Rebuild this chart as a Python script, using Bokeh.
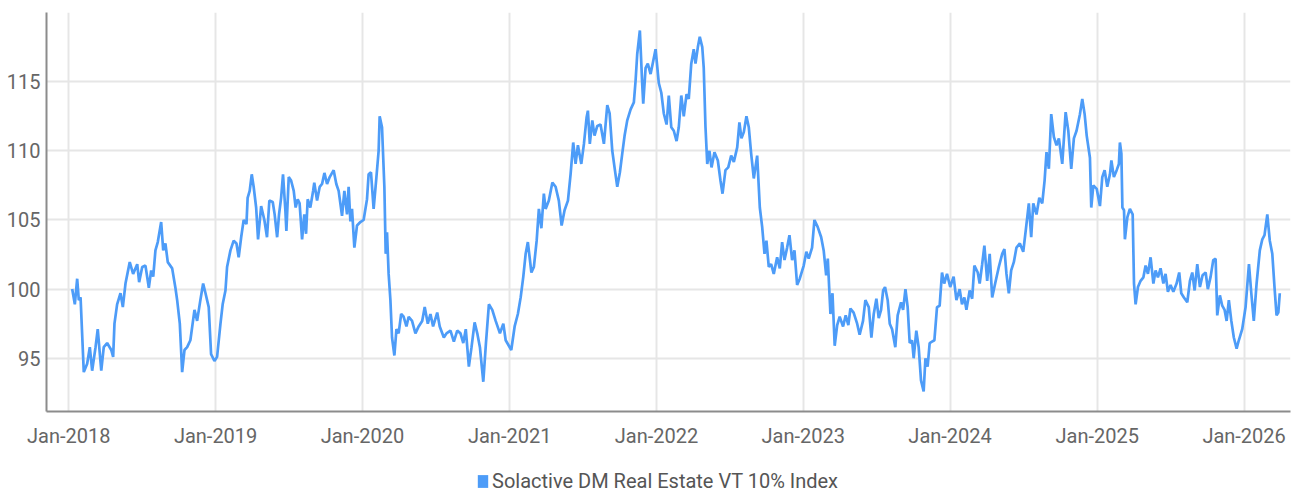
import pandas as pd
from bokeh.plotting import figure
from bokeh.layouts import column
from bokeh.models import (Range1d, FixedTicker, DatetimeTickFormatter, Legend,
                          LegendItem, ColumnDataSource)
from bokeh.embed import file_html
from bokeh.resources import INLINE

series_name = "Solactive DM Real Estate VT 10% Index"

# time as fractional year (index level)
t_2018 = [2018.023, 2018.041, 2018.057, 2018.068, 2018.080, 2018.102, 2018.125, 2018.143, 2018.159, 2018.182,
          2018.197, 2018.221, 2018.238, 2018.261, 2018.289, 2018.302, 2018.311, 2018.329, 2018.352, 2018.368,
          2018.386, 2018.415, 2018.438, 2018.466, 2018.479, 2018.500, 2018.522, 2018.545, 2018.561, 2018.575,
          2018.590, 2018.606, 2018.629, 2018.643, 2018.658, 2018.674, 2018.704, 2018.726, 2018.738, 2018.756,
          2018.772, 2018.788, 2018.806, 2018.828, 2018.856, 2018.874, 2018.896, 2018.915, 2018.931, 2018.953,
          2018.969, 2018.992]
v_2018 = [100.0, 98.9, 100.75, 99.2, 99.4, 94.0, 94.6, 95.8, 94.1, 95.8,
          97.1, 94.1, 95.8, 96.1, 95.6, 95.1, 97.5, 98.9, 99.7, 98.7,
          100.4, 101.95, 101.1, 101.8, 100.5, 101.6, 101.7, 100.1, 101.35, 100.9,
          102.8, 103.4, 104.85, 102.8, 103.3, 101.95, 101.5, 100.1, 99.2, 97.5,
          94.0, 95.6, 95.8, 96.3, 98.5, 97.7, 99.2, 100.4, 99.7, 98.7,
          95.3, 94.8]

t_2019 = [2019.010, 2019.033, 2019.048, 2019.067, 2019.078, 2019.101, 2019.123, 2019.142, 2019.157, 2019.174,
          2019.191, 2019.210, 2019.218, 2019.232, 2019.246, 2019.259, 2019.276, 2019.289, 2019.310, 2019.332,
          2019.350, 2019.366, 2019.389, 2019.402, 2019.419, 2019.432, 2019.446, 2019.459, 2019.475, 2019.482,
          2019.498, 2019.514, 2019.532, 2019.545, 2019.559, 2019.572, 2019.589, 2019.604, 2019.616, 2019.627,
          2019.645, 2019.664, 2019.672, 2019.691, 2019.709, 2019.725, 2019.741, 2019.759, 2019.777, 2019.804,
          2019.822, 2019.838, 2019.861, 2019.877, 2019.895, 2019.906, 2019.918, 2019.929, 2019.945, 2019.963,
          2019.986]
v_2019 = [95.1, 97.5, 98.9, 99.9, 101.6, 102.8, 103.5, 103.3, 102.3, 103.75,
          105.0, 104.7, 106.6, 107.1, 108.3, 107.4, 105.9, 103.6, 106.0, 105.0,
          103.75, 106.4, 106.3, 105.4, 103.75, 105.4, 106.6, 108.3, 105.7, 104.2,
          108.1, 107.85, 107.1, 105.9, 106.5, 106.2, 103.6, 105.4, 104.0, 106.5,
          105.9, 107.1, 107.7, 106.4, 107.4, 107.6, 108.4, 107.6, 108.1, 108.6,
          107.6, 107.1, 105.3, 107.1, 105.4, 107.4, 104.9, 105.8, 103.0, 104.6,
          104.85]

t_2020 = [2020.008, 2020.031, 2020.042, 2020.058, 2020.076, 2020.095, 2020.110, 2020.117, 2020.133, 2020.149,
          2020.158, 2020.167, 2020.178, 2020.190, 2020.201, 2020.217, 2020.231, 2020.246, 2020.263, 2020.280,
          2020.299, 2020.314, 2020.337, 2020.360, 2020.382, 2020.406, 2020.423, 2020.444, 2020.462, 2020.480,
          2020.508, 2020.525, 2020.553, 2020.571, 2020.598, 2020.621, 2020.644, 2020.666, 2020.685, 2020.702,
          2020.723, 2020.741, 2020.762, 2020.780, 2020.798, 2020.821, 2020.839, 2020.859, 2020.882, 2020.905,
          2020.934, 2020.957, 2020.973]
v_2020 = [105.0, 106.5, 108.3, 108.45, 105.8, 108.1, 110.0, 112.5, 111.7, 107.4,
          102.55, 104.1, 101.1, 99.2, 96.5, 95.2, 97.1, 96.8, 98.2, 98.0,
          97.3, 98.0, 97.7, 96.8, 97.3, 97.7, 98.7, 97.5, 98.2, 97.3,
          98.3, 97.3, 96.5, 96.8, 97.0, 96.2, 97.0, 96.8, 96.1, 97.1,
          94.4, 95.8, 97.6, 96.8, 95.8, 93.3, 96.1, 98.9, 98.5, 97.7,
          96.8, 97.5, 96.3]

t_2021 = [2021.011, 2021.034, 2021.056, 2021.075, 2021.093, 2021.109, 2021.124, 2021.148, 2021.165, 2021.184,
          2021.199, 2021.216, 2021.233, 2021.245, 2021.267, 2021.291, 2021.313, 2021.335, 2021.354, 2021.374,
          2021.397, 2021.415, 2021.433, 2021.449, 2021.465, 2021.488, 2021.506, 2021.524, 2021.533, 2021.546,
          2021.563, 2021.578, 2021.597, 2021.619, 2021.642, 2021.665, 2021.681, 2021.699, 2021.717, 2021.733,
          2021.751, 2021.767, 2021.783, 2021.801, 2021.824, 2021.846, 2021.858, 2021.869, 2021.887, 2021.903,
          2021.910, 2021.926, 2021.941, 2021.960, 2021.978, 2021.994]
v_2021 = [95.6, 97.3, 98.2, 99.4, 100.9, 102.55, 103.4, 101.2, 101.6, 103.5,
          105.8, 104.4, 106.9, 105.8, 106.4, 107.7, 107.4, 106.4, 104.6, 105.7,
          106.4, 108.3, 110.6, 109.05, 110.4, 109.05, 110.5, 112.4, 112.9, 110.5,
          112.2, 111.1, 111.8, 111.9, 110.5, 113.3, 112.7, 110.0, 108.6, 107.4,
          108.45, 109.8, 111.1, 112.2, 113.0, 113.5, 115.1, 117.0, 118.7, 114.8,
          113.4, 116.0, 116.3, 115.55, 116.5, 117.35]

t_2022 = [2022.016, 2022.033, 2022.050, 2022.069, 2022.084, 2022.101, 2022.118, 2022.137, 2022.152, 2022.169,
          2022.186, 2022.205, 2022.220, 2022.237, 2022.254, 2022.266, 2022.282, 2022.295, 2022.312, 2022.322,
          2022.334, 2022.346, 2022.361, 2022.375, 2022.395, 2022.418, 2022.436, 2022.450, 2022.470, 2022.489,
          2022.509, 2022.527, 2022.550, 2022.565, 2022.579, 2022.595, 2022.613, 2022.629, 2022.645, 2022.663,
          2022.686, 2022.704, 2022.720, 2022.736, 2022.749, 2022.765, 2022.781, 2022.799, 2022.822, 2022.840,
          2022.856, 2022.872, 2022.890, 2022.906, 2022.924, 2022.940, 2022.958, 2022.976]
v_2022 = [114.9, 114.2, 112.7, 111.9, 114.0, 111.7, 111.45, 110.7, 111.7, 114.0,
          112.5, 114.1, 113.75, 116.3, 117.35, 116.3, 117.5, 118.25, 117.5, 116.0,
          111.7, 109.05, 110.0, 108.8, 109.9, 109.3, 107.85, 106.9, 108.6, 108.8,
          109.65, 109.2, 110.25, 112.05, 110.9, 111.35, 112.5, 111.7, 109.8, 108.0,
          109.65, 105.9, 104.5, 102.55, 103.5, 101.6, 101.8, 101.1, 102.3, 101.5,
          103.4, 102.1, 103.0, 103.9, 102.1, 102.8, 100.3, 100.75]

t_2023 = [2023.003, 2023.021, 2023.037, 2023.060, 2023.076, 2023.098, 2023.122, 2023.139, 2023.156, 2023.167,
          2023.185, 2023.199, 2023.214, 2023.231, 2023.248, 2023.271, 2023.289, 2023.307, 2023.321, 2023.343,
          2023.367, 2023.384, 2023.407, 2023.423, 2023.446, 2023.464, 2023.480, 2023.498, 2023.514, 2023.530,
          2023.544, 2023.557, 2023.575, 2023.589, 2023.605, 2023.627, 2023.643, 2023.666, 2023.680, 2023.696,
          2023.711, 2023.725, 2023.741, 2023.752, 2023.770, 2023.786, 2023.802, 2023.820, 2023.832, 2023.847,
          2023.861, 2023.877, 2023.893, 2023.911, 2023.929, 2023.945, 2023.960, 2023.979]
v_2023 = [101.7, 102.7, 102.2, 103.0, 105.0, 104.5, 103.75, 102.8, 101.0, 102.2,
          98.2, 99.7, 95.9, 97.4, 98.0, 97.3, 98.1, 97.4, 98.6, 98.3,
          97.5, 96.7, 97.7, 99.2, 98.7, 96.5, 98.2, 99.3, 97.9, 98.5,
          99.9, 100.15, 99.2, 97.5, 97.1, 95.8, 98.1, 99.05, 98.5, 100.0,
          98.7, 96.1, 96.3, 95.0, 97.0, 95.8, 93.4, 92.6, 95.0, 94.4,
          96.1, 96.2, 96.3, 98.7, 98.8, 101.2, 100.4, 101.1]

t_2024 = [2024.001, 2024.024, 2024.043, 2024.065, 2024.081, 2024.097, 2024.111, 2024.133, 2024.150, 2024.165,
          2024.188, 2024.201, 2024.218, 2024.233, 2024.252, 2024.269, 2024.286, 2024.308, 2024.331, 2024.354,
          2024.369, 2024.383, 2024.399, 2024.415, 2024.433, 2024.451, 2024.474, 2024.497, 2024.514, 2024.535,
          2024.551, 2024.565, 2024.587, 2024.606, 2024.626, 2024.642, 2024.655, 2024.671, 2024.687, 2024.705,
          2024.723, 2024.739, 2024.762, 2024.785, 2024.803, 2024.823, 2024.841, 2024.859, 2024.882, 2024.898,
          2024.914, 2024.928, 2024.950, 2024.959, 2024.973, 2024.996]
v_2024 = [100.15, 100.9, 99.2, 100.0, 98.9, 99.4, 98.5, 99.9, 99.3, 101.7,
          101.2, 100.4, 101.8, 103.15, 100.6, 102.55, 99.4, 100.5, 101.6, 102.55,
          102.9, 101.1, 99.7, 101.35, 101.95, 103.0, 103.3, 102.7, 104.25, 106.2,
          103.75, 106.2, 105.4, 106.6, 106.2, 107.85, 109.9, 108.7, 112.65, 111.0,
          110.4, 110.9, 109.05, 112.8, 111.45, 108.7, 110.9, 111.45, 112.65, 113.75,
          112.65, 111.1, 109.5, 105.9, 107.5, 107.25]

t_2025 = [2025.018, 2025.034, 2025.050, 2025.068, 2025.086, 2025.096, 2025.113, 2025.132, 2025.147, 2025.154,
          2025.164, 2025.171, 2025.182, 2025.188, 2025.205, 2025.222, 2025.241, 2025.250, 2025.261, 2025.277,
          2025.295, 2025.314, 2025.329, 2025.345, 2025.363, 2025.382, 2025.397, 2025.413, 2025.431, 2025.450,
          2025.465, 2025.481, 2025.499, 2025.518, 2025.540, 2025.558, 2025.572, 2025.590, 2025.613, 2025.631,
          2025.647, 2025.663, 2025.681, 2025.699, 2025.717, 2025.738, 2025.753, 2025.772, 2025.790, 2025.806,
          2025.817, 2025.835, 2025.851, 2025.867, 2025.881, 2025.896, 2025.913, 2025.930, 2025.949, 2025.964,
          2025.987]
v_2025 = [106.0, 108.1, 108.6, 107.4, 108.3, 109.3, 108.1, 108.6, 109.05, 110.6,
          109.8, 105.9, 105.7, 103.6, 105.2, 105.8, 105.4, 100.4, 98.9, 100.15,
          100.6, 100.85, 101.7, 101.1, 102.3, 100.4, 101.35, 100.85, 101.5, 100.4,
          101.1, 99.8, 100.3, 99.8, 100.4, 101.2, 99.7, 99.4, 99.05, 100.6,
          101.2, 99.9, 101.8, 100.15, 101.0, 101.2, 100.0, 100.9, 102.1, 102.2,
          98.1, 99.55, 98.8, 98.5, 97.7, 99.2, 97.7, 96.5, 95.7, 96.3,
          97.1]

t_2026 = [2026.010, 2026.033, 2026.049, 2026.066, 2026.085, 2026.107, 2026.124, 2026.139, 2026.158, 2026.175,
          2026.192, 2026.207, 2026.221, 2026.233, 2026.243]
v_2026 = [98.7, 101.8, 99.7, 97.7, 100.4, 102.8, 103.6, 103.9, 105.4, 103.5,
          102.55, 100.15, 98.1, 98.3, 99.7]

x_tick_years = [2018, 2019, 2020, 2021, 2022, 2023, 2024, 2025, 2026]
y_ticks = [95, 100, 105, 110, 115]

LINE_COLOR = "#4d9cf8"
FONT = "Roboto"
TEXT_COLOR = "#666666"


def frac_to_dt(f):
    y = int(f)
    start = pd.Timestamp(year=y, month=1, day=1)
    end = pd.Timestamp(year=y + 1, month=1, day=1)
    return start + (end - start) * (f - y)


times, values = [], []
for ts, vs in [(t_2018, v_2018), (t_2019, v_2019), (t_2020, v_2020), (t_2021, v_2021),
               (t_2022, v_2022), (t_2023, v_2023), (t_2024, v_2024), (t_2025, v_2025),
               (t_2026, v_2026)]:
    for t, v in zip(ts, vs):
        times.append(frac_to_dt(t))
        values.append(v)

source = ColumnDataSource(data=dict(date=times, value=values))

MAIN_H = 460
LEG_H = 494 - MAIN_H

p = figure(width=1302, height=MAIN_H, x_axis_type="datetime",
           output_backend="svg", toolbar_location=None,
           x_range=Range1d(frac_to_dt(2017.848), frac_to_dt(2026.316)),
           y_range=Range1d(91.15, 120.0),
           min_border_left=46, min_border_right=12, min_border_top=12,
           min_border_bottom=MAIN_H - 411)

p.outline_line_color = None
p.background_fill_color = "white"

p.line("date", "value", source=source, line_color=LINE_COLOR, line_width=2.7)

x_ticks_ms = [pd.Timestamp(year=y, month=1, day=1).timestamp() * 1000 for y in x_tick_years]
xa = p.xaxis[0]
xa.ticker = FixedTicker(ticks=x_ticks_ms)
fmt = "%b-%Y"
xa.formatter = DatetimeTickFormatter(years=fmt, months=fmt, days=fmt, hours=fmt,
                                     hourmin=fmt, minutes=fmt, minsec=fmt,
                                     seconds=fmt, milliseconds=fmt, microseconds=fmt)
ya = p.yaxis[0]
ya.ticker = FixedTicker(ticks=y_ticks)

for ax in (xa, ya):
    ax.axis_line_color = "#8c8c8c"
    ax.axis_line_width = 2
    ax.major_tick_line_color = None
    ax.major_tick_out = 0
    ax.major_tick_in = 0
    ax.minor_tick_line_color = None
    ax.minor_tick_out = 0
    ax.minor_tick_in = 0
    ax.major_label_text_font = FONT
    ax.major_label_text_font_size = "20px"
    ax.major_label_text_color = TEXT_COLOR
xa.major_label_standoff = 12
ya.major_label_standoff = 6

p.xgrid.grid_line_color = "#e6e6e6"
p.xgrid.grid_line_width = 2
p.ygrid.grid_line_color = "#e6e6e6"
p.ygrid.grid_line_width = 2

# legend strip underneath the chart; the swatch renderer holds no drawable data
nan = float("nan")
lp = figure(width=1302, height=LEG_H, output_backend="svg", toolbar_location=None,
            x_range=Range1d(0, 1), y_range=Range1d(0, 1),
            x_axis_location=None, y_axis_location=None,
            min_border_left=0, min_border_right=0, min_border_top=0, min_border_bottom=0)
lp.outline_line_color = None
lp.xgrid.visible = False
lp.ygrid.visible = False
swatch = lp.quad(left=[nan], right=[nan], top=[nan], bottom=[nan],
                 fill_color=LINE_COLOR, line_color=None)
legend = Legend(items=[LegendItem(label=series_name, renderers=[swatch])],
                location=(430, 1), orientation="horizontal",
                padding=0, margin=0, spacing=0,
                glyph_width=13, glyph_height=16, label_standoff=3,
                border_line_color=None, background_fill_alpha=0,
                label_text_font=FONT, label_text_font_size="20px",
                label_text_color="#555555")
lp.add_layout(legend, "center")

layout = column(p, lp, spacing=0)
open("out.html", "w").write(file_html(layout, INLINE))
